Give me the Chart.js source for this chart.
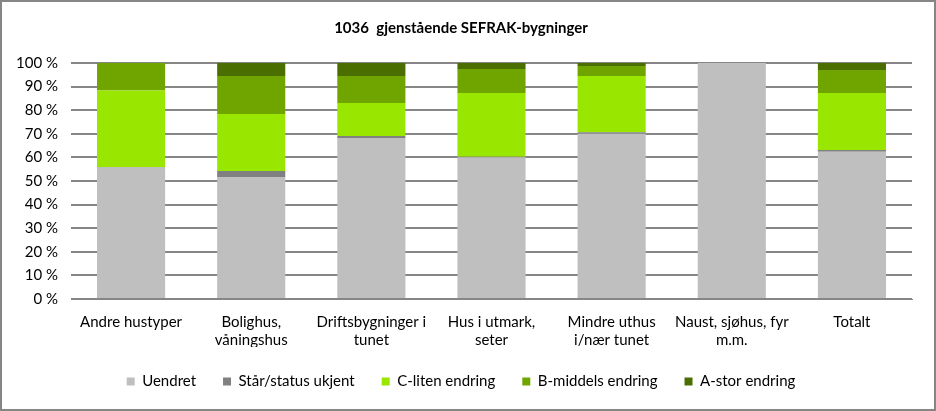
<!DOCTYPE html>
<html>
<head>
<meta charset="utf-8">
<script src="https://cdn.jsdelivr.net/npm/chart.js@4/dist/chart.umd.min.js"></script>
<style>
  html, body { margin: 0; padding: 0; background: #fff; }
  #wrap { width: 936px; height: 411px; position: relative; }
</style>
</head>
<body>
<div id="wrap"><canvas id="grafico"></canvas></div>
<script>
const kategorier = [
    'Andre hustyper',
    ['Bolighus,', 'våningshus'],
    ['Driftsbygninger i', 'tunet'],
    ['Hus i utmark,', 'seter'],
    ['Mindre uthus', 'i/nær tunet'],
    ['Naust, sjøhus, fyr', 'm.m.'],
    'Totalt'
]

// andeler i prosent, lest av figuren
const uendret = [55.9, 51.7, 68.2, 60.1, 70.0, 100, 62.4]
const ukjent  = [0, 2.5, 0.9, 0.2, 0.7, 0, 0.7]
const cLiten  = [32.4, 24.2, 14.0, 27.0, 23.8, 0, 24.2]
const bMiddels = [11.7, 16.1, 11.4, 10.2, 4.2, 0, 9.7]
const aStor   = [0, 5.5, 5.5, 2.5, 1.3, 0, 3.0]

const yTicks = [0, 10, 20, 30, 40, 50, 60, 70, 80, 90, 100]

const fontFam = 'Lato, "Open Sans", sans-serif'

//ramme rundt hele figuren
const rammePlugin = {
    id: 'ramme',
    beforeDraw(chart) {
        const ctx = chart.ctx
        ctx.save()
        ctx.fillStyle = '#fff'
        ctx.fillRect(0, 0, chart.width, chart.height)
        ctx.strokeStyle = '#868686'
        ctx.lineWidth = 2
        ctx.strokeRect(1, 1, chart.width - 2, chart.height - 2)
        ctx.restore()
    }
}

const serie = (label, data, color) => ({
    label: label,
    data: data,
    backgroundColor: color,
    borderWidth: 0,
    barPercentage: 0.567,
    categoryPercentage: 1
})

const grafico = new Chart(document.getElementById('grafico'), {
    type: 'bar',
    data: {
        labels: kategorier,
        datasets: [
            serie('Uendret', uendret, '#BFBFBF'),
            serie('Står/status ukjent', ukjent, '#808080'),
            serie('C-liten endring', cLiten, '#99E600'),
            serie('B-middels endring', bMiddels, '#70A500'),
            serie('A-stor endring', aStor, '#4A6F00')
        ]
    },
    options: {
        responsive: true,
        maintainAspectRatio: false,
        animation: false,
        layout: { padding: { left: 10, right: 24, top: 0, bottom: 12 } },
        plugins: {
            title: {
                display: true,
                text: '1036  gjenstående SEFRAK-bygninger',
                color: '#000',
                font: { family: fontFam, size: 15, weight: 'bold' },
                padding: { top: 19, bottom: 26 }
            },
            legend: {
                position: 'bottom',
                labels: {
                    color: '#000',
                    font: { family: fontFam, size: 15 },
                    boxWidth: 8,
                    boxHeight: 8,
                    padding: 27
                }
            },
            tooltip: { enabled: false }
        },
        scales: {
            x: {
                stacked: true,
                grid: { display: false },
                border: { color: '#868686' },
                ticks: {
                    color: '#000',
                    font: { family: fontFam, size: 15, lineHeight: 1.2 },
                    maxRotation: 0,
                    autoSkip: false,
                    padding: 6
                },
                afterFit(scale) { scale.height = 48 }
            },
            y: {
                stacked: true,
                min: 0,
                max: 100,
                afterBuildTicks(scale) { scale.ticks = yTicks.map(v => ({ value: v })) },
                grid: { color: '#868686', lineWidth: 2, drawTicks: false },
                border: { display: false },
                ticks: {
                    color: '#000',
                    font: { family: fontFam, size: 15 },
                    padding: 13,
                    callback: v => v + ' %'
                },
                afterFit(scale) { scale.width = 61 }
            }
        }
    },
    plugins: [rammePlugin]
})
</script>
</body>
</html>
